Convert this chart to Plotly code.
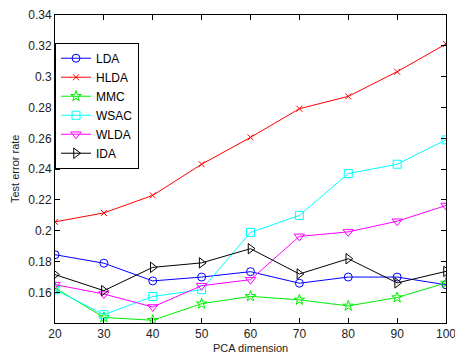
import plotly.graph_objects as go

dims = [20, 30, 40, 50, 60, 70, 80, 90, 100]
lda = [0.1845, 0.179, 0.1675, 0.170, 0.1735, 0.166, 0.170, 0.170, 0.165]
hlda = [0.2058, 0.2116, 0.223, 0.2432, 0.2606, 0.2792, 0.2872, 0.3032, 0.3212]
mmc = [0.163, 0.1438, 0.142, 0.1527, 0.1575, 0.1552, 0.1513, 0.1567, 0.1662]
wsac = [0.1618, 0.1456, 0.1574, 0.1618, 0.199, 0.210, 0.2371, 0.2432, 0.259]
wlda = [0.1651, 0.159, 0.1506, 0.1644, 0.1683, 0.1964, 0.1993, 0.2062, 0.2164]
ida = [0.1716, 0.1612, 0.1763, 0.1792, 0.1884, 0.172, 0.1819, 0.1662, 0.1737]

yticks = [0.16, 0.18, 0.2, 0.22, 0.24, 0.26, 0.28, 0.3, 0.32, 0.34]
yticklabels = ["0.16", "0.18", "0.2", "0.22", "0.24", "0.26", "0.28", "0.3", "0.32", "0.34"]

series = [
    ("LDA", lda, "#0000ff", "circle-open", 8),
    ("HLDA", hlda, "#ff0000", "x-thin-open", 6),
    ("MMC", mmc, "#00ee00", "star-open", 8),
    ("WSAC", wsac, "#00ffff", "square-open", 8),
    ("WLDA", wlda, "#ff00ff", "triangle-down-open", 9),
    ("IDA", ida, "#000000", "triangle-right-open", 9),
]

fig = go.Figure()
for name, vals, col, sym, sz in series:
    fig.add_trace(go.Scatter(
        x=dims, y=vals, name=name, mode="lines+markers",
        line=dict(color=col, width=1),
        marker=dict(symbol=sym, size=sz, color=col, line=dict(color=col, width=1)),
    ))

axis_common = dict(
    showline=True, linecolor="#000000", linewidth=1, mirror="ticks",
    ticks="inside", ticklen=5, tickcolor="#000000", showgrid=False, zeroline=False,
    automargin=False, ticklabeloverflow="allow",
    tickfont=dict(family="Liberation Sans, Arial", size=12, color="#222222"),
)

fig.update_layout(
    width=455, height=355,
    margin=dict(l=55, r=9, t=15, b=32),
    paper_bgcolor="white", plot_bgcolor="white",
    font=dict(family="Liberation Sans, Arial", size=11, color="#222222"),
    xaxis=dict(range=[20, 100], tickvals=dims, ticklabelstandoff=0, **axis_common),
    yaxis=dict(range=[0.1402, 0.34], tickvals=yticks, ticktext=yticklabels, **axis_common),
    legend=dict(x=0, y=0.91, xanchor="left", yanchor="top",
                bgcolor="white", bordercolor="#000000", borderwidth=1,
                font=dict(family="Liberation Sans, Arial", size=12, color="#000000"),
                tracegroupgap=0, itemwidth=30),
    showlegend=True,
    annotations=[
        dict(text="PCA dimension", xref="paper", yref="paper", x=0.5, y=0,
             yshift=-25, xanchor="center", yanchor="middle", showarrow=False,
             font=dict(size=11, color="#222222")),
        dict(text="Test error rate", xref="paper", yref="paper", x=0, y=0.5,
             xshift=-40, xanchor="center", yanchor="middle", textangle=-90,
             showarrow=False, font=dict(size=11, color="#222222")),
    ],
)

# Remove the page's default body margin so the 455x355 figure fills the window exactly.
fig.write_html(
    "out.html",
    config={"displayModeBar": False},
    post_script="document.body.style.margin='0';document.body.style.overflow='hidden';",
)
